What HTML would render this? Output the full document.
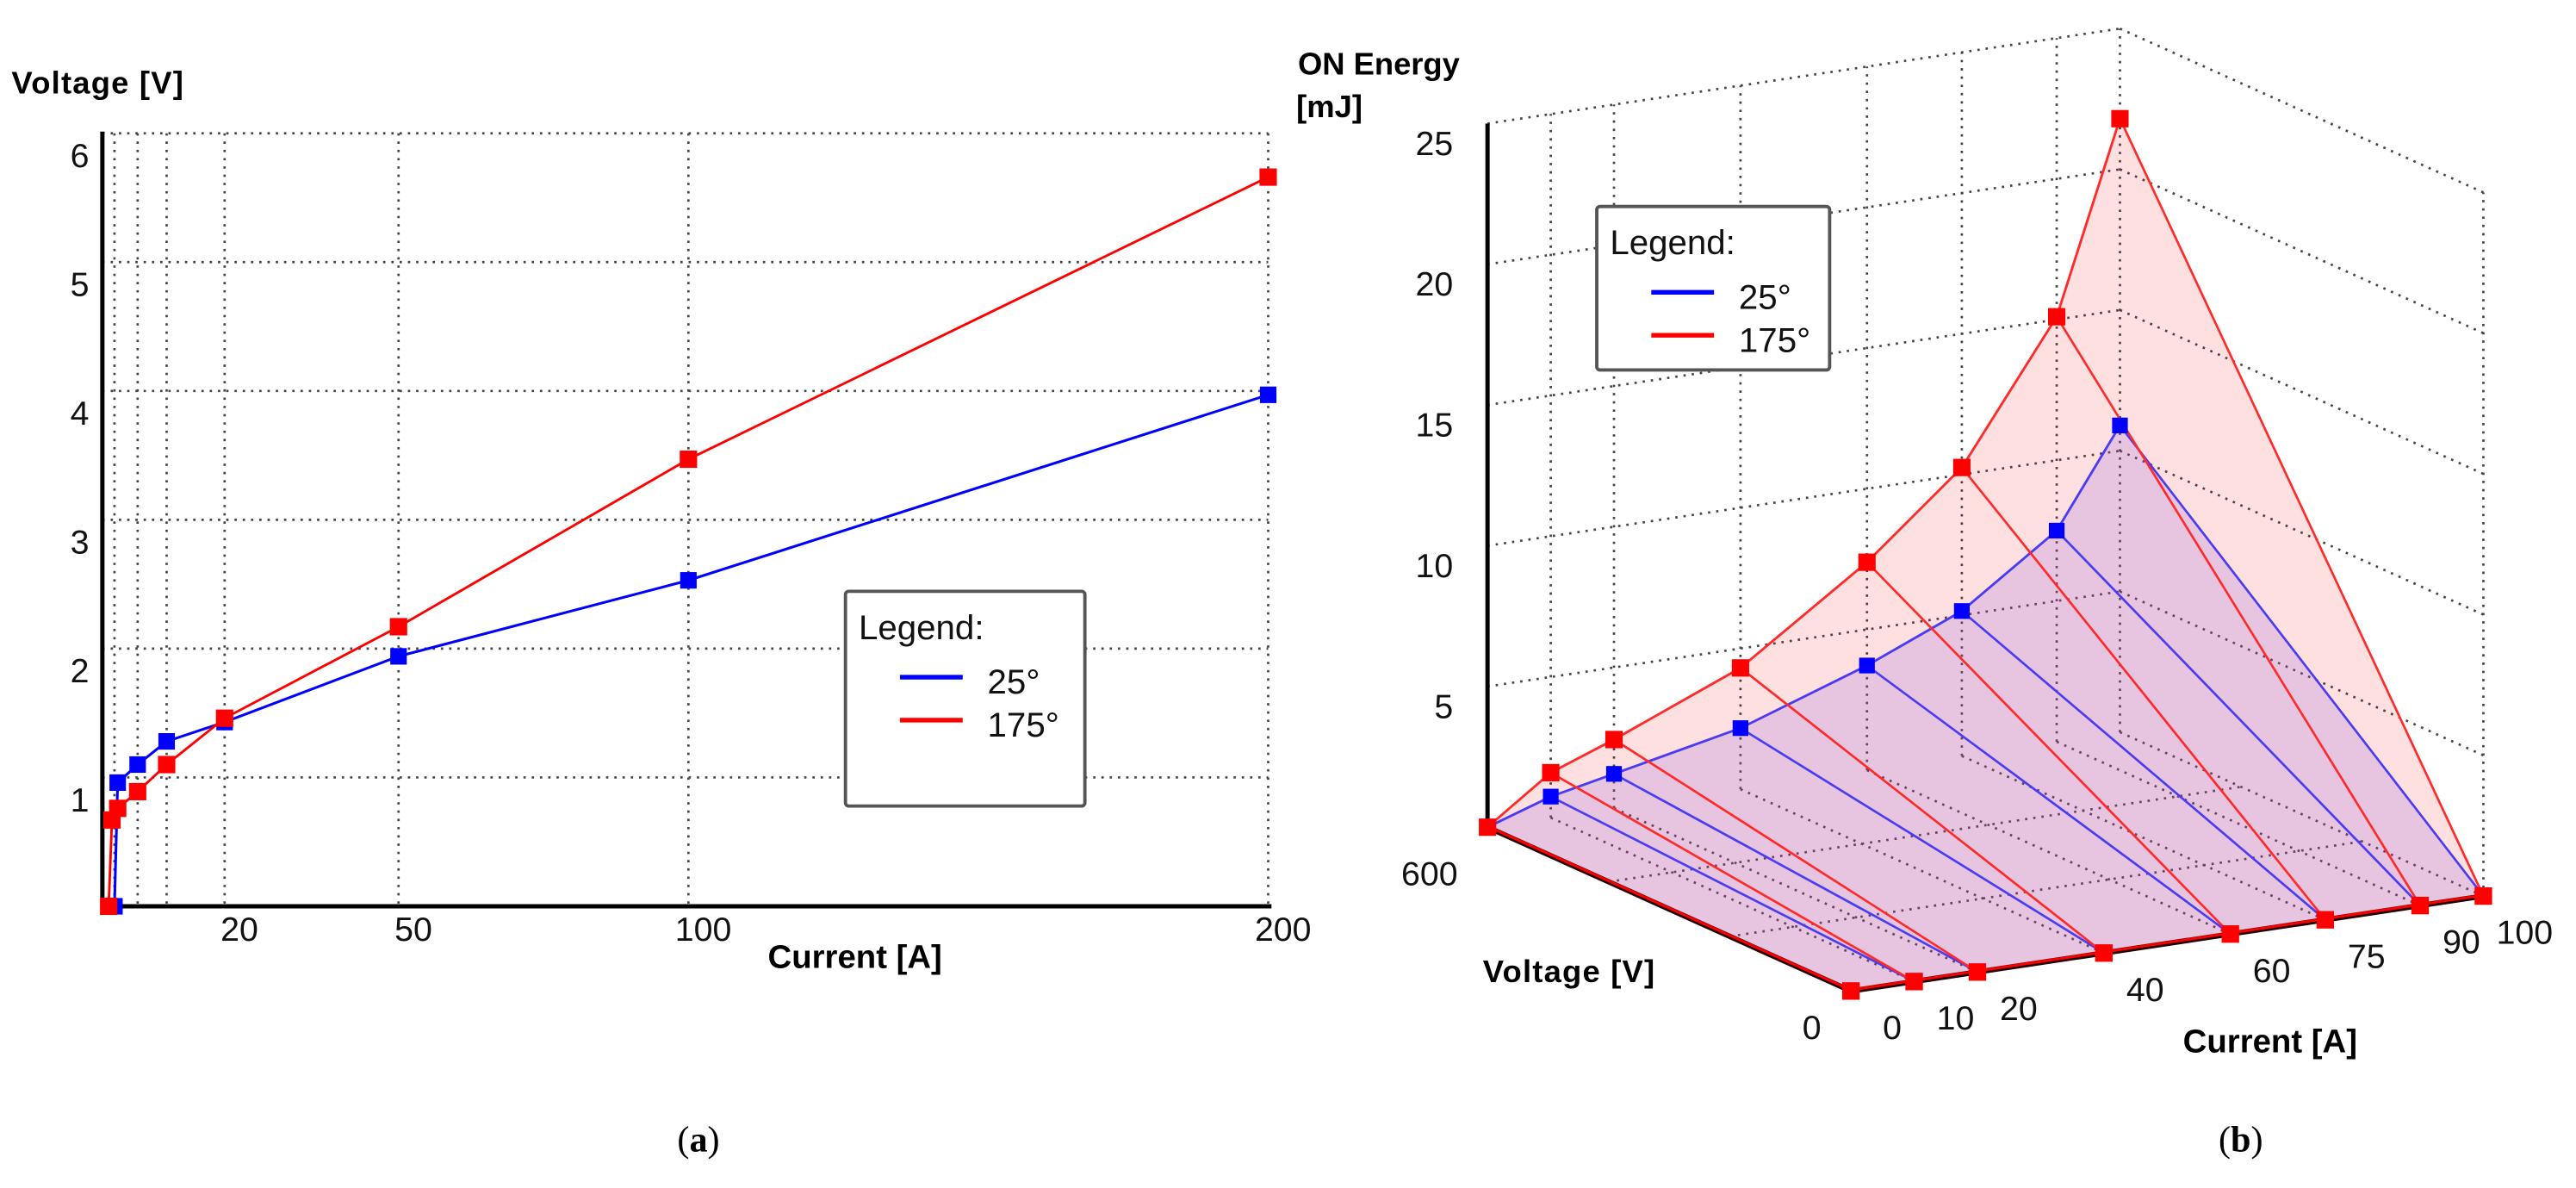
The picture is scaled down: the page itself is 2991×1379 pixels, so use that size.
<!DOCTYPE html>
<html><head><meta charset="utf-8"><style>
html,body{margin:0;padding:0;background:#fff;}
svg{display:block;font-family:"Liberation Sans",Arial,sans-serif;}
</style></head><body>
<svg id="fig" xmlns="http://www.w3.org/2000/svg" width="2991" height="1379" viewBox="0 0 1560 719.26" preserveAspectRatio="none">
<g id="chartA"></g>
<g id="chartB"></g>
<text x="423" y="697" text-anchor="middle" font-family="Liberation Serif,serif" font-size="22">(<tspan font-weight="bold">a</tspan>)</text>
<text x="1357" y="697" text-anchor="middle" font-family="Liberation Serif,serif" font-size="22">(<tspan font-weight="bold">b</tspan>)</text>
</svg>
<script>
// ---------- Chart (a) data ----------
const aGridX = [1, 5, 10, 20, 50, 100, 200];
const aTickX = [20, 50, 100, 200];
const aTickY = [1, 2, 3, 4, 5, 6];
const aBlueI = [1, 1.56, 5, 10, 20, 50, 100, 200];
const aBlueV = [0, 0.96, 1.10, 1.28, 1.43, 1.94, 2.53, 3.97];
const aRedI = [0, 0.57, 1.56, 5, 10, 20, 50, 100, 200];
const aRedV = [0, 0.67, 0.76, 0.89, 1.10, 1.46, 2.17, 3.47, 5.66];
// ---------- Chart (b) data ----------
const bCurrents = [0, 10, 20, 40, 60, 75, 90, 100];
const bRedE = [0, 1.6, 2.44, 4.31, 7.39, 10.25, 15.1, 21.8];
const bBlueE = [0, 0.75, 1.22, 2.17, 3.72, 5.15, 7.5, 10.9];
const bTickE = [5, 10, 15, 20, 25];
const bTickI = [0, 10, 20, 40, 60, 75, 90, 100];
const bTickV = [0, 600];
const bFloorV = [200, 400];

const NS = "http://www.w3.org/2000/svg";
function mk(parent, tag, attrs, txt) {
  const e = document.createElementNS(NS, tag);
  for (const k in attrs) e.setAttribute(k, attrs[k]);
  if (txt !== undefined) e.textContent = txt;
  parent.appendChild(e);
  return e;
}
const GRID = {stroke: "#444", "stroke-width": 1.4, "stroke-dasharray": "1.4 3.6", fill: "none"};

// ======== Chart (a) ========
const A = document.getElementById("chartA");
const xA = I => 65.8 + 3.511 * I;
const yA = V => 548.7 - 78 * V;
const xAEnd = 768;
aTickY.forEach(v => {
  const l = mk(A, "line", Object.assign({x1: 62, x2: xAEnd, y1: yA(v), y2: yA(v)}, GRID));
  
  
});
aGridX.forEach(i => {
  const l = mk(A, "line", Object.assign({x1: xA(i), x2: xA(i), y1: yA(6), y2: yA(0)}, GRID));
  
  
});
let ax = mk(A, "line", {x1: 62, x2: 62, y1: yA(6) - 1, y2: yA(0) + 1.3, stroke: "#000", "stroke-width": 2.6});


ax = mk(A, "line", {x1: 61, x2: 770, y1: yA(0), y2: yA(0), stroke: "#000", "stroke-width": 2.6});


aTickY.forEach(v => {
  const t = mk(A, "text", {x: 54, y: yA(v) + 20.5, "text-anchor": "end", "font-size": 20.5, fill: "#111"}, String(v));
  
  
});
aTickX.forEach(v => {
  const t = mk(A, "text", {x: xA(v) + 9, y: 569.5, "text-anchor": "middle", "font-size": 20.5, fill: "#111"}, String(v));
  
  
});
let tt = mk(A, "text", {x: 7, y: 56.5, "font-size": 19, "font-weight": "bold", textLength: 104}, "Voltage [V]");


tt = mk(A, "text", {x: 465, y: 586, "font-size": 20, "font-weight": "bold"}, "Current [A]");


function seriesA(I, V, color, w, name, ms) {
  const pts = I.map((c, k) => xA(c) + "," + yA(V[k])).join(" ");
  const pl = mk(A, "polyline", {points: pts, fill: "none", stroke: color, "stroke-width": w});
  
  
  I.forEach((c, k) => {
    const r = mk(A, "rect", {x: xA(c) - ms / 2, y: yA(V[k]) - ms / 2, width: ms, height: ms, fill: color});
    
    
  });
}
seriesA(aBlueI, aBlueV, "#0000ff", 1.6, "series-25deg", 10);
seriesA(aRedI, aRedV, "#ff0000", 1.5, "series-175deg", 10.5);
function legend(parent, x, y, w, h, name) {
  const g = mk(parent, "g", {});
  
  
  const b = mk(g, "rect", {x: x, y: y, width: w, height: h, rx: 2, fill: "#fff", stroke: "#555", "stroke-width": 2});
  
  
  const t = mk(g, "text", {x: x + 8, y: y + 29, "font-size": 21, fill: "#111"}, "Legend:");
  
  
  [["#0000ff", "25°", 52], ["#ff0000", "175°", 78]].forEach(([c, lab, dy]) => {
    const l = mk(g, "line", {x1: x + 33, x2: x + 71, y1: y + dy, y2: y + dy, stroke: c, "stroke-width": 2.8});
    
    
    const tx = mk(g, "text", {x: x + 86, y: y + dy + 10, "font-size": 21, fill: "#111"}, lab);
    
    
  });
}
legend(A, 512, 358, 145, 130, "legend-a");

// ======== Chart (b) ========
const B = document.getElementById("chartB");
const kE = 17.04;
function P(I, V, E) {
  return [1120.9 + 3.83 * I - 0.3668 * V, 600 - 0.575 * I - 0.1653 * V - kE * E];
}
function gl(p, q, name, extra) {
  const l = mk(B, "line", Object.assign({x1: p[0], y1: p[1], x2: q[0], y2: q[1]}, GRID, extra || {}));
  
  
}
const Imax = 100, Vmax = 600, Emax = 25;
bTickI.slice(1).forEach(i => gl(P(i, Vmax, 0), P(i, Vmax, Emax), 'back-wall-vgrid'));
bTickE.forEach(e => gl(P(0, Vmax, e), P(Imax, Vmax, e), 'back-wall-hgrid'));
bTickE.forEach(e => gl(P(Imax, Vmax, e), P(Imax, 0, e), 'right-wall-hgrid'));
gl(P(Imax, 0, 0), P(Imax, 0, Emax), 'right-wall-vgrid');
bTickI.slice(1).forEach(i => gl(P(i, Vmax, 0), P(i, 0, 0), 'floor-grid-current'));
bFloorV.forEach(v => gl(P(0, v, 0), P(Imax, v, 0), 'floor-grid-voltage'));
function fillPoly(E, color, name) {
  const pts = bCurrents.map((c, k) => P(c, Vmax, E[k]));
  pts.push(P(bCurrents[bCurrents.length - 1], 0, 0));
  pts.push(P(bCurrents[0], 0, 0));
  const pg = mk(B, "polygon", {points: pts.map(p => p.join(",")).join(" "), fill: color});
  
  
}
fillPoly(bRedE, "rgba(255,0,0,0.12)", 'surface-175deg');
fillPoly(bBlueE, "rgba(145,94,219,0.22)", 'surface-25deg');
let eAxis = mk(B, "line", {x1: P(0, Vmax, 0)[0], y1: P(0, Vmax, 0)[1] + 1, x2: P(0, Vmax, Emax)[0], y2: P(0, Vmax, Emax)[1], stroke: "#000", "stroke-width": 2.6});


[[P(0, Vmax, 0), P(0, 0, 0), 'voltage-axis'], [P(0, 0, 0), P(Imax, 0, 0), 'current-axis']].forEach(([p, q, n]) => {
  const l = mk(B, "line", {x1: p[0], y1: p[1], x2: q[0], y2: q[1], stroke: "#200", "stroke-width": 3.2});
  
  
  const l2 = mk(B, "line", {x1: p[0], y1: p[1] - 0.6, x2: q[0], y2: q[1] - 0.6, stroke: "#ff0000", "stroke-width": 1.6});
  
  
});
function seriesB(E, color, name) {
  bCurrents.forEach((c, k) => {
    if (c === 0) return;
    const p = P(c, Vmax, E[k]), q = P(c, 0, 0);
    const l = mk(B, "line", {x1: p[0], y1: p[1], x2: q[0], y2: q[1], stroke: color, "stroke-width": 1.4});
    
    
  });
  const pl = mk(B, "polyline", {points: bCurrents.map((c, k) => P(c, Vmax, E[k]).join(",")).join(" "), fill: "none", stroke: color, "stroke-width": 1.5});
  
  
}
seriesB(bBlueE, "#4a3cf2", 'series-25deg');
seriesB(bRedE, "#ff2a2a", 'series-175deg');
function markersB(E, color, name, ms) {
  bCurrents.forEach((c, k) => {
    const p = P(c, Vmax, E[k]);
    const r = mk(B, "rect", {x: p[0] - ms / 2, y: p[1] - ms / 2, width: ms, height: ms, fill: color});
    
    
  });
}
markersB(bBlueE, "#0000ff", 'series-25deg', 9.5);
markersB(bRedE, "#ff0000", 'series-175deg', 10.5);
bCurrents.forEach(c => {
  const p = P(c, 0, 0);
  const r = mk(B, "rect", {x: p[0] - 5.3, y: p[1] - 5.3, width: 10.6, height: 10.6, fill: "#ff0000"});
  
  
});
bTickE.forEach(e => {
  const p = P(0, Vmax, e);
  const t = mk(B, "text", {x: 880, y: p[1] + 19, "text-anchor": "end", "font-size": 20.5, fill: "#111"}, String(e));
  
  
});
bTickI.forEach(i => {
  const p = P(i, 0, 0);
  const t = mk(B, "text", {x: p[0] + 25, y: p[1] + 29, "text-anchor": "middle", "font-size": 20.5, fill: "#111"}, String(i));
  
  
});
bTickV.forEach(v => {
  const p = P(0, v, 0);
  const t = mk(B, "text", {x: p[0] - 18, y: p[1] + 29 + v / 100, "text-anchor": "end", "font-size": 20.5, fill: "#111"}, String(v));
  
  
});
let bt = mk(B, "text", {x: 786, y: 45, "font-size": 19, "font-weight": "bold", textLength: 98}, "ON Energy");


bt = mk(B, "text", {x: 785, y: 71, "font-size": 19, "font-weight": "bold"}, "[mJ]");


bt = mk(B, "text", {x: 898, y: 594.7, "font-size": 19, "font-weight": "bold", textLength: 104}, "Voltage [V]");


bt = mk(B, "text", {x: 1322, y: 637, "font-size": 20, "font-weight": "bold"}, "Current [A]");


legend(B, 967, 125, 141, 99, "legend-b");
</script>
</body></html>
